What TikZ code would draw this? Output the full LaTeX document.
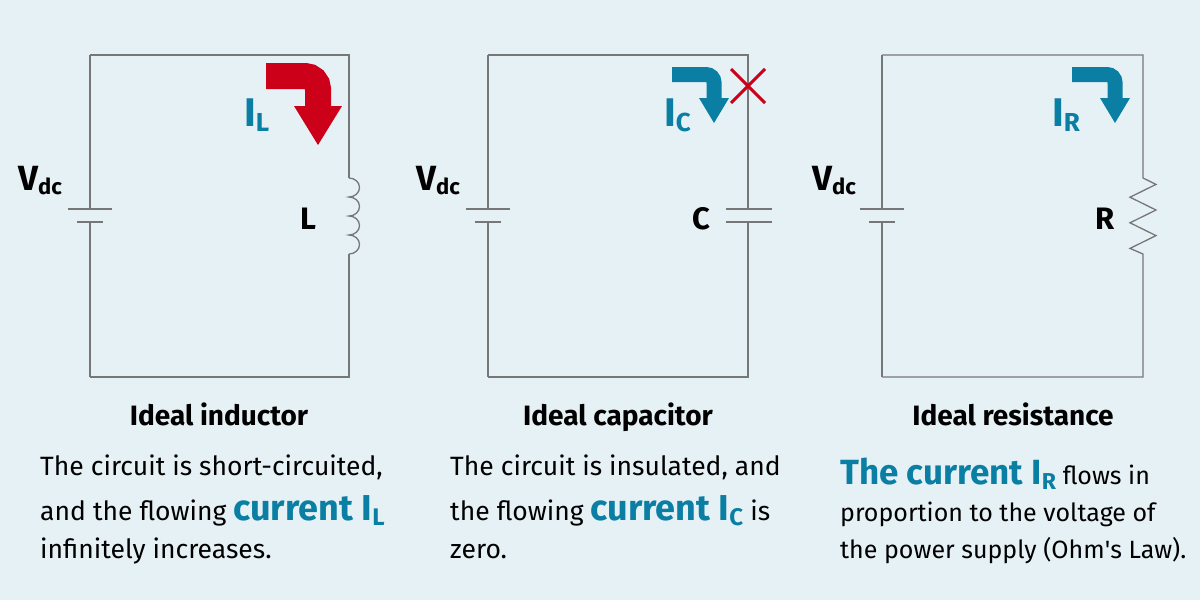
\documentclass[tikz,border=0pt]{standalone}
\usepackage{fontspec}
\setmainfont{Fira Sans}
\newfontfamily\plainfs{Fira Sans}[Ligatures=ResetAll]
\begin{document}
\definecolor{bg}{HTML}{E6F1F6}
\definecolor{wire}{HTML}{777777}
\definecolor{cb}{HTML}{0A7FA3}
\definecolor{cr}{HTML}{CC0018}
\begin{tikzpicture}[x=1pt,y=-1pt,
  w/.style={wire,line width=1.3pt},
  lab/.style={anchor=base west,inner sep=0pt,font=\fontsize{31}{31}\selectfont\bfseries},
  vdc/.style={anchor=base west,inner sep=0pt},
  body/.style={anchor=base west,inner sep=0pt,font=\fontsize{26.5}{27}\selectfont},
  bodyc/.style={anchor=base west,inner sep=0pt,font=\fontsize{25}{26}\selectfont},
  ttl/.style={anchor=base,inner sep=0pt,font=\fontsize{28}{28}\selectfont\bfseries},
  cur/.style={anchor=base west,inner sep=0pt,text=cb,font=\fontsize{40}{40}\selectfont\bfseries}]
\fill[bg] (0,0) rectangle (1200,600);
\useasboundingbox (0,0) rectangle (1200,600);
\newcommand\vdcnode[2]{\node[vdc] (#2) at (#1,190) {\fontsize{35}{35}\selectfont\bfseries V\raisebox{-4pt}{\fontsize{22}{22}\selectfont dc}};}
\newcommand\battery[1]{%
  \draw[w] (#1,55) -- (#1,209) (#1-22,209) -- (#1+22,209)
           (#1-13,222) -- (#1+13,222) (#1,222) -- (#1,377);}
% circuit 1
\draw[w] (90,55) -- (349,55) -- (349,178);
\draw[w] (349,178) arc(-90:90:10.5 and 9.5) arc(-90:90:10.5 and 9.5) arc(-90:90:10.5 and 9.5) arc(-90:90:10.5 and 9.5);
\draw[w] (349,254) -- (349,377) -- (90,377);
\battery{90}
\vdcnode{18}{v1}
\node[lab] (L) at (300,229) {L};
\draw[cr,line width=26pt] (266,76) -- (305,76) arc(-90:0:13) -- (318,108);
\fill[cr] (294,106) -- (342,106) -- (318,145) -- cycle;
\node[cur] (IL) at (244,126) {I\raisebox{-5pt}{\fontsize{26}{26}\selectfont L}};
% circuit 2
\draw[w] (488,55) -- (748,55) -- (748,209) (726,209) -- (772,209) (726,222) -- (772,222) (748,222) -- (748,377) -- (488,377);
\battery{488}
\vdcnode{416}{v2}
\node[lab] (C) at (692,229) {C};
\draw[cb,line width=15pt] (672,74.5) -- (706,74.5) arc(-90:0:8) -- (714,100);
\fill[cb] (699,98) -- (729,98) -- (714,123) -- cycle;
\node[cur] (IC) at (664,126) {I\raisebox{-5pt}{\fontsize{26}{26}\selectfont C}};
\draw[cr,line width=3pt] (731,69) -- (765,103) (765,69) -- (731,103);
% circuit 3
\draw[w] (882,55) -- (1143,55) -- (1143,178) -- (1156,184.4) -- (1130,197.2) -- (1156,210) -- (1130,222.8) -- (1156,235.6) -- (1130,248.4) -- (1143,254) -- (1143,377) -- (882,377);
\battery{882}
\vdcnode{812}{v3}
\node[lab] (R) at (1095,229) {R};
\draw[cb,line width=15pt] (1072,74.5) -- (1107,74.5) arc(-90:0:8) -- (1115,100);
\fill[cb] (1100,98) -- (1130,98) -- (1115,123) -- cycle;
\node[cur] (IR) at (1052,126) {I\raisebox{-5pt}{\fontsize{26}{26}\selectfont R}};
% texts
\node[ttl] (t1) at (219,425) {Ideal inductor};
\node[ttl] (t2) at (618,425) {Ideal capacitor};
\node[ttl] (t3) at (1013,425) {Ideal resistance};
\node[body] (a1) at (40,475) {The circuit is short-circuited,};
\node[body] (a2) at (40,520) {and the flowing {\color{cb}\fontsize{36}{36}\selectfont\bfseries current I\raisebox{-5pt}{\fontsize{24}{24}\selectfont L}}};
\node[body] (a3) at (40,558) {infinitely increases.};
\node[body] (b1) at (450,475) {The circuit is insulated, and};
\node[body] (b2) at (450,520) {the flowing {\color{cb}\fontsize{36}{36}\selectfont\bfseries current I\raisebox{-5pt}{\fontsize{24}{24}\selectfont C}} is};
\node[body] (b3) at (450,558) {zero.};
\node[bodyc] (c1) at (840,484) {{\color{cb}\fontsize{35}{35}\selectfont\bfseries The current I\raisebox{-5pt}{\fontsize{23}{23}\selectfont R}} flows in};
\node[bodyc] (c2) at (840,521) {proportion to the voltage of};
\node[bodyc] (c3) at (840,558) {the power supply (Ohm{\plainfs '}s Law).};
\end{tikzpicture}
\end{document}
